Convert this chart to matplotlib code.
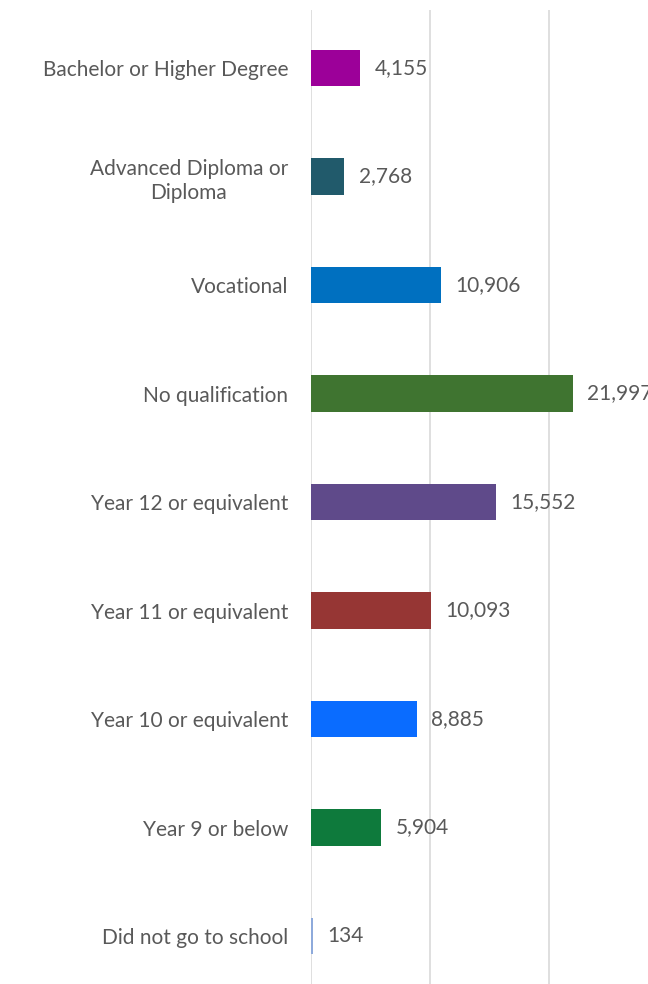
import matplotlib.pyplot as plt

categories = [
    "Bachelor or Higher Degree",
    "Advanced Diploma or\nDiploma",
    "Vocational",
    "No qualification",
    "Year 12 or equivalent",
    "Year 11 or equivalent",
    "Year 10 or equivalent",
    "Year 9 or below",
    "Did not go to school",
]
counts = [4155, 2768, 10906, 21997, 15552, 10093, 8885, 5904, 134]
colors = ["#9c0099", "#215a6b", "#0070c0", "#3f7430", "#5f4a8a",
          "#963634", "#0a6cff", "#0e7a3c", "#8eaadb"]

plt.rcParams['font.family'] = ['Lato', 'DejaVu Sans']

fig = plt.figure(figsize=(6.48, 9.84), dpi=100)
ax = fig.add_axes([311 / 648, 0, 357 / 648, 1 - 10 / 984])

pos = list(range(len(categories)))
ax.barh(pos, counts, height=0.34, color=colors, zorder=3)

# value labels just past the end of each bar
for y, v in zip(pos, counts):
    ax.annotate(f"{v:,}", (v, y), xytext=(10.5, 0), textcoords="offset points",
                va="center", ha="left", fontsize=15, color="#595959")

ax.set_xlim(0, 30000)
ax.set_ylim(8.442, -0.535)
ax.set_xticks([0, 10000, 20000, 30000])
ax.set_yticks(pos)
ax.set_yticklabels(categories, fontsize=15, color="#595959",
                   multialignment="center", linespacing=1.25)
ax.tick_params(axis="y", length=0, pad=16.5)
ax.tick_params(axis="x", length=0, labelbottom=False)
ax.grid(axis="x", color="#d9d9d9", linewidth=1.2, zorder=0)
for s in ax.spines.values():
    s.set_visible(False)

fig.savefig("out.png", dpi=100)
